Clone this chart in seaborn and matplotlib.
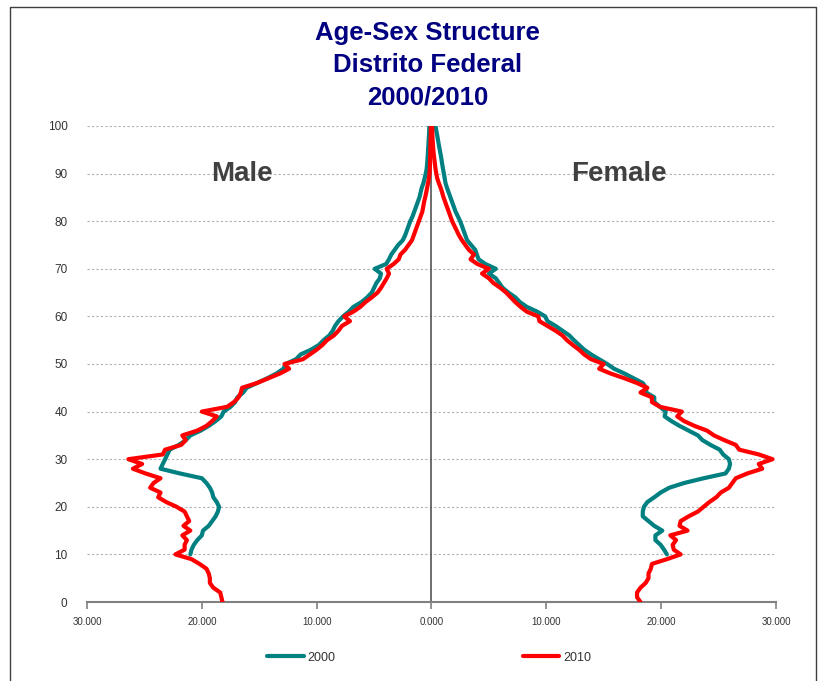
import numpy as np
import pandas as pd
import seaborn as sns
import matplotlib.pyplot as plt
from matplotlib.lines import Line2D

# -----------------------------------------------------
# data (thousands of persons by single year of age)
# -----------------------------------------------------
ages_2010 = list(range(0, 101))
ages_2000 = list(range(10, 101))

male_2010 = [
    18.2, 18.3, 18.4, 19.0, 19.3, 19.3, 19.4, 19.6, 20.2, 20.9,
    22.3, 21.5, 21.5, 21.3, 21.7, 21.0, 21.6, 21.1, 21.3, 21.5,
    22.2, 23.1, 23.8, 23.6, 24.5, 24.2, 23.6, 24.9, 26.0, 25.2,
    26.4, 23.4, 23.2, 21.8, 21.4, 21.7, 20.4, 19.6, 19.1, 18.7,
    20.0, 17.8, 17.2, 16.8, 16.6, 16.5, 15.2, 14.2, 13.2, 12.4,
    12.8, 11.2, 10.6, 10.0, 9.5, 9.1, 8.5, 8.1, 7.8, 7.1,
    7.6, 6.8, 6.2, 5.75, 5.2, 4.7, 4.4, 4.15, 3.9, 3.7,
    3.9, 3.3, 2.85, 2.7, 2.3, 2.0, 1.7, 1.55, 1.4, 1.25,
    1.1, 0.95, 0.8, 0.72, 0.65, 0.55, 0.46, 0.38, 0.3, 0.23,
    0.17, 0.15, 0.13, 0.12, 0.1, 0.1, 0.09, 0.08, 0.07, 0.06,
    0.05,
]

female_2010 = [
    18.2, 17.9, 17.9, 18.2, 18.65, 18.9, 18.9, 19.1, 19.2, 20.5,
    21.7, 21.1, 21.0, 21.3, 20.8, 22.3, 21.6, 21.7, 22.4, 23.2,
    23.7, 24.2, 24.8, 25.2, 25.9, 26.2, 26.5, 27.5, 28.8, 28.5,
    29.7, 28.5, 26.8, 26.5, 25.5, 24.6, 24.0, 22.9, 22.0, 21.4,
    21.8, 19.9, 19.2, 19.2, 18.2, 18.8, 17.9, 16.8, 15.6, 14.6,
    15.0, 13.9, 13.3, 12.85, 12.3, 11.8, 11.4, 10.8, 10.1, 9.4,
    9.3, 8.3, 7.76, 7.3, 6.9, 6.5, 6.0, 5.4, 5.0, 4.4,
    5.0, 4.0, 3.4, 3.7, 3.25, 2.95, 2.65, 2.4, 2.2, 2.0,
    1.8, 1.65, 1.5, 1.35, 1.2, 1.05, 0.93, 0.8, 0.64, 0.5,
    0.42, 0.35, 0.3, 0.25, 0.2, 0.16, 0.13, 0.1, 0.08, 0.07,
    0.06,
]

male_2000 = [
    21.0, 20.9, 20.7, 20.4, 20.0, 19.9, 19.4, 19.1, 18.8, 18.6,
    18.5, 18.7, 19.0, 19.1, 19.3, 19.6, 20.0, 21.9, 23.6, 23.4,
    23.2, 23.0, 22.8, 22.0, 21.4, 21.0, 20.1, 19.4, 18.8, 18.3,
    18.1, 17.5, 17.1, 16.9, 16.4, 16.1, 15.2, 14.3, 13.5, 12.9,
    12.7, 11.8, 11.4, 10.5, 9.8, 9.4, 8.9, 8.6, 8.4, 8.1,
    7.7, 7.2, 6.8, 6.1, 5.6, 5.2, 5.0, 4.8, 4.5, 4.4,
    4.95, 3.95, 3.7, 3.5, 3.2, 2.9, 2.5, 2.3, 2.15, 2.0,
    1.85, 1.65, 1.5, 1.35, 1.2, 1.05, 0.95, 0.85, 0.7, 0.6,
    0.5, 0.42, 0.38, 0.35, 0.32, 0.3, 0.27, 0.25, 0.22, 0.2,
    0.18,
]

female_2000 = [
    20.5, 20.25, 19.96, 19.5, 19.5, 20.1, 19.4, 18.9, 18.4, 18.4,
    18.5, 18.8, 19.4, 19.96, 20.7, 22.0, 23.7, 25.6, 25.9, 26.0,
    25.9, 25.4, 25.1, 24.3, 23.6, 23.2, 22.4, 21.6, 20.9, 20.3,
    20.4, 19.9, 19.4, 19.4, 18.7, 18.7, 18.4, 17.6, 16.8, 15.9,
    15.3, 14.6, 13.9, 13.3, 12.85, 12.4, 12.0, 11.4, 10.8, 10.1,
    9.9, 9.2, 8.3, 7.7, 7.3, 6.7, 6.2, 5.9, 5.6, 5.0,
    5.6, 4.7, 4.1, 3.95, 3.8, 3.45, 3.1, 2.95, 2.8, 2.65,
    2.5, 2.3, 2.1, 1.95, 1.8, 1.65, 1.5, 1.35, 1.22, 1.15,
    1.08, 1.0, 0.93, 0.87, 0.8, 0.72, 0.64, 0.57, 0.5, 0.42,
    0.35,
]

years = ["2000", "2010"]
colors = {"2000": "#008080", "2010": "#FF0000"}

frames = [
    pd.DataFrame({"age": ages_2000, "value": -np.array(male_2000), "sex": "Male", "year": "2000"}),
    pd.DataFrame({"age": ages_2000, "value": np.array(female_2000), "sex": "Female", "year": "2000"}),
    pd.DataFrame({"age": ages_2010, "value": -np.array(male_2010), "sex": "Male", "year": "2010"}),
    pd.DataFrame({"age": ages_2010, "value": np.array(female_2010), "sex": "Female", "year": "2010"}),
]
df = pd.concat(frames, ignore_index=True)

# -----------------------------------------------------
# plot
# -----------------------------------------------------
sns.set_style("white")
plt.rcParams["font.family"] = ["Liberation Sans", "DejaVu Sans"]

fig = plt.figure(figsize=(8.27, 6.81), dpi=100)
ax = fig.add_axes([0.1052, 0.116, 0.8331, 0.699])

for yr in years:
    for sex in ["Male", "Female"]:
        sub = df[(df["year"] == yr) & (df["sex"] == sex)]
        sns.lineplot(data=sub, x="value", y="age", sort=False, estimator=None,
                     orient="y", color=colors[yr], linewidth=3.0, ax=ax,
                     legend=False, zorder=3 if yr == "2000" else 4)

ax.set_xlim(-30, 30)
ax.set_ylim(0, 100)
ax.set_xticks(np.arange(-30, 31, 10))
ax.set_xticklabels([f"{abs(v):.3f}" for v in np.arange(-30, 31, 10)])
ax.set_yticks(np.arange(0, 101, 10))
ax.set_xlabel("")
ax.set_ylabel("")

for y in range(10, 101, 10):
    ax.axhline(y, color="#b0b0b0", linestyle=(0, (2, 2)), linewidth=0.8, zorder=1)
ax.axvline(0, color="#555555", linewidth=1.2, zorder=2)

for s in ["left", "right", "top"]:
    ax.spines[s].set_visible(False)
ax.spines["bottom"].set_color("#808080")
ax.spines["bottom"].set_linewidth(1.5)
ax.tick_params(axis="x", direction="out", length=5, width=1.2, color="#808080",
               labelsize=7, labelcolor="#333333", pad=6, bottom=True)
ax.tick_params(axis="y", length=0, labelsize=8.5, labelcolor="#333333", pad=14)

ax.text(-16.5, 90, "Male", fontsize=20, fontweight="bold", color="#404040",
        ha="center", va="center")
ax.text(16.3, 90, "Female", fontsize=20, fontweight="bold", color="#404040",
        ha="center", va="center")

for txt, yy in [("Age-Sex Structure", 0.951), ("Distrito Federal", 0.904), ("2000/2010", 0.857)]:
    fig.text(0.517, yy, txt, fontsize=18.5, fontweight="bold",
             color="#000080", ha="center", va="center")

handles = [Line2D([0], [0], color=colors[y], linewidth=3.0) for y in years]
fig.legend(handles, years, loc="center", bbox_to_anchor=(0.519, 0.034), ncol=2,
           frameon=False, fontsize=9, handlelength=2.9, handletextpad=0.3,
           columnspacing=15, labelcolor="#333333")

# outer frame (open at the bottom like the original crop)
fig.add_artist(Line2D([0.012, 0.012, 0.987, 0.987], [0.0, 0.99, 0.99, 0.0],
                      transform=fig.transFigure, color="#404040", linewidth=1.0))

fig.savefig("out.png", dpi=100)
